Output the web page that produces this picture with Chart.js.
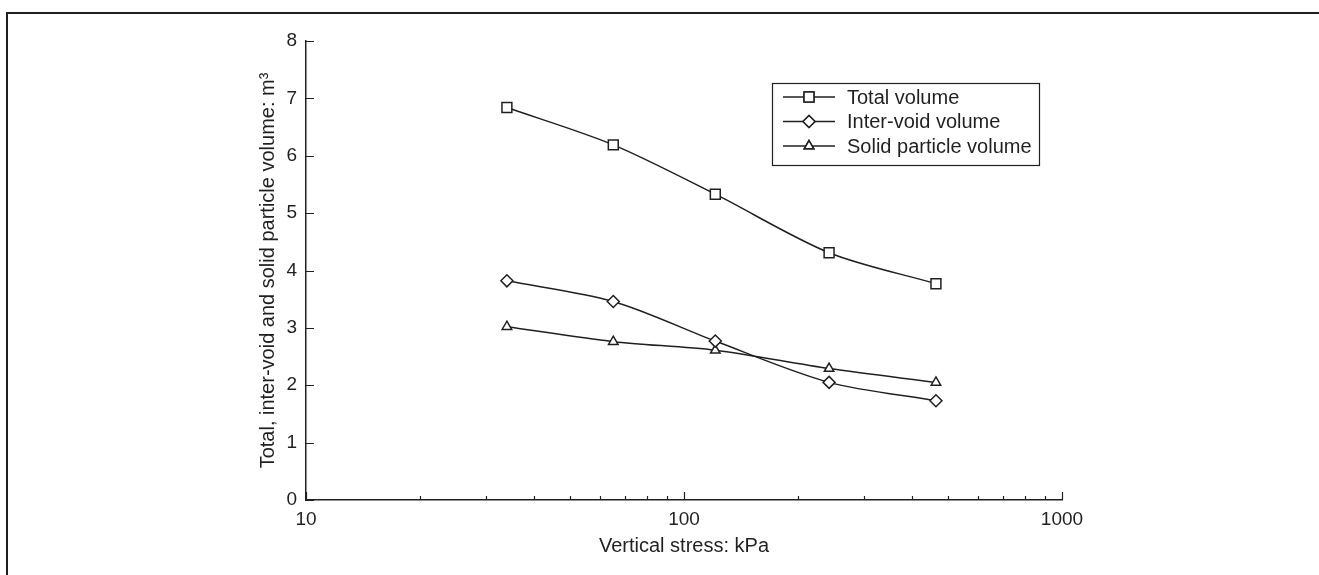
<!DOCTYPE html>
<html>
<head>
<meta charset="utf-8">
<script src="https://cdn.jsdelivr.net/npm/chart.js@4/dist/chart.umd.min.js"></script>
<style>
  html, body { margin: 0; padding: 0; background: #fff; }
  #wrap { position: relative; width: 1319px; height: 575px; }
  #frame { position: absolute; left: 6px; top: 12px; right: -4px; bottom: -4px;
           border-left: 2px solid #231f20; border-top: 2px solid #231f20; pointer-events: none; }
  canvas { position: absolute; left: 0; top: 0; }
</style>
</head>
<body>
<div id="wrap">
  <canvas id="chart" width="1319" height="575"></canvas>
  <div id="frame"></div>
</div>
<script>
// Data (vertical stress in kPa, volume in m3)
const stress = [34, 65, 121, 242, 464];
const totalVolume = [6.84, 6.19, 5.33, 4.31, 3.77];
const interVoidVolume = [3.82, 3.46, 2.77, 2.05, 1.73];
const solidVolume = [3.02, 2.76, 2.61, 2.29, 2.05];

const xMajorTicks = [10, 100, 1000];
const xMinorTicks = [20, 30, 40, 50, 60, 70, 80, 90, 200, 300, 400, 500, 600, 700, 800, 900];
const yTicks = [0, 1, 2, 3, 4, 5, 6, 7, 8];

const INK = '#231f20';
const FONT = '"Liberation Sans", Arial, sans-serif';

function toPoints(ys) {
  return stress.map((x, i) => ({ x: x, y: ys[i] }));
}

function series(label, ys, marker, size) {
  return {
    label: label,
    data: toPoints(ys),
    borderColor: INK,
    backgroundColor: '#fff',
    borderWidth: 1.5,
    pointStyle: marker,
    pointRadius: size,
    pointBorderWidth: 1.5,
    pointBackgroundColor: '#fff',
    pointBorderColor: INK,
    tension: 0.3
  };
}

// inward tick marks like the printed figure
const tickMarks = {
  id: 'tickMarks',
  afterDatasetsDraw(chart) {
    const { ctx, scales: { x, y } } = chart;
    ctx.save();
    ctx.strokeStyle = INK;
    ctx.lineWidth = 1.2;
    ctx.beginPath();
    xMajorTicks.forEach(v => {
      const px = Math.round(x.getPixelForValue(v)) + 0.5;
      ctx.moveTo(px, y.bottom);
      ctx.lineTo(px, y.bottom - 8);
    });
    xMinorTicks.forEach(v => {
      const px = Math.round(x.getPixelForValue(v)) + 0.5;
      ctx.moveTo(px, y.bottom);
      ctx.lineTo(px, y.bottom - 4);
    });
    yTicks.forEach(v => {
      const py = Math.round(y.getPixelForValue(v)) + 0.5;
      ctx.moveTo(x.left, py);
      ctx.lineTo(x.left + 8, py);
    });
    ctx.stroke();
    ctx.restore();
  }
};

new Chart(document.getElementById('chart'), {
  type: 'line',
  data: {
    datasets: [
      series('Total volume', totalVolume, 'rect', 7),
      series('Inter-void volume', interVoidVolume, 'rectRot', 6),
      series('Solid particle volume', solidVolume, 'triangle', 5.5)
    ]
  },
  options: {
    responsive: false,
    animation: false,
    layout: { padding: { left: 0, top: 41, right: 257, bottom: 0 } },
    scales: {
      x: {
        type: 'logarithmic',
        min: 10,
        max: 1000,
        afterBuildTicks: s => { s.ticks = xMajorTicks.map(v => ({ value: v })); },
        afterFit: s => { s.height = 75; },
        grid: { display: false, drawTicks: false },
        border: { display: true, color: INK, width: 1.5 },
        ticks: {
          color: INK,
          font: { family: FONT, size: 19 },
          padding: 8,
          maxRotation: 0,
          callback: v => String(v)
        },
        title: {
          display: true,
          text: 'Vertical stress: kPa',
          color: INK,
          font: { family: FONT, size: 20 },
          padding: { top: 0, bottom: 17 }
        }
      },
      y: {
        min: 0,
        max: 8,
        afterBuildTicks: s => { s.ticks = yTicks.map(v => ({ value: v })); },
        afterFit: s => { s.width = 306; },
        grid: { display: false, drawTicks: false },
        border: { display: true, color: INK, width: 1.5 },
        ticks: {
          color: INK,
          font: { family: FONT, size: 19 },
          padding: 9
        },
        title: {
          display: true,
          text: 'Total, inter-void and solid particle volume: m\u00b3',
          color: INK,
          font: { family: FONT, size: 20 },
          padding: { top: 256, bottom: 0 }
        }
      }
    },
    plugins: {
      legend: { display: false },
      tooltip: { enabled: false }
    }
  },
  plugins: [tickMarks, {
    // boxed legend inside the plot, as in the figure
    id: 'boxLegend',
    afterDraw(chart) {
      const ctx = chart.ctx;
      const bx = 772, by = 83, bw = 267, bh = 82;
      ctx.save();
      ctx.fillStyle = '#fff';
      ctx.fillRect(bx, by, bw, bh);
      ctx.strokeStyle = INK;
      ctx.lineWidth = 1.2;
      ctx.strokeRect(bx + 0.5, by + 0.5, bw, bh);
      ctx.font = '20px ' + FONT;
      ctx.textBaseline = 'middle';
      chart.data.datasets.forEach((ds, i) => {
        const cy = by + 14 + i * 24.5;
        ctx.strokeStyle = INK;
        ctx.lineWidth = 1.5;
        ctx.beginPath();
        ctx.moveTo(783, cy);
        ctx.lineTo(835, cy);
        ctx.stroke();
        Chart.helpers.drawPoint(ctx, {
          pointStyle: ds.pointStyle,
          radius: ds.pointRadius,
          borderWidth: 1.5
        }, 809, cy);
        ctx.fillStyle = '#fff';
        ctx.fill();
        ctx.stroke();
        ctx.fillStyle = INK;
        ctx.fillText(ds.label, 847, cy + 1);
      });
      ctx.restore();
    }
  }]
});
</script>
</body>
</html>
